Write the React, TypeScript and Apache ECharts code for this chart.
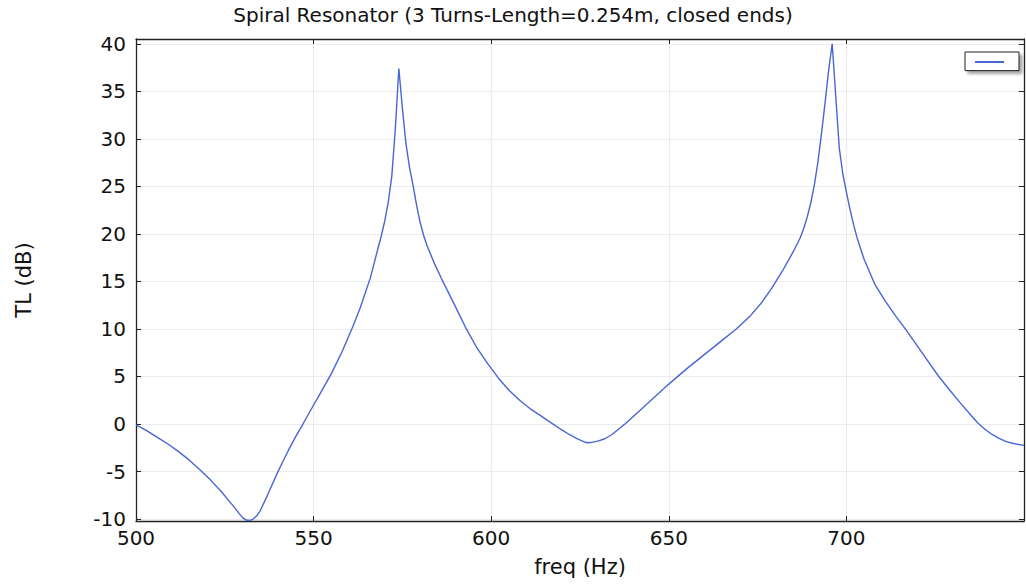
import React, { useEffect, useRef } from "react";
import * as echarts from "echarts";

const TITLE = "Spiral Resonator (3 Turns-Length=0.254m, closed ends)";
const X_NAME = "freq (Hz)";
const Y_NAME = "TL (dB)";
const SERIES_NAME = "TL";

const freq: number[] = [
  500, 503, 506, 509, 512, 515, 518, 521, 524, 526, 528, 529, 530, 531, 532, 533, 534, 535, 537, 539,
  541, 543, 545, 547, 550, 552, 555, 558, 561, 563, 566, 568, 569, 570, 571, 572, 573, 574, 575, 576,
  577, 578, 579, 580, 581, 582, 584, 586, 588, 590, 593, 596, 599, 602, 605, 608, 611, 614, 617, 620,
  622, 624, 626, 627, 628, 630, 632, 634, 636, 638, 640, 645, 650, 655, 660, 665, 669, 673, 676, 679,
  682, 685, 687, 688, 689, 690, 691, 692, 693, 694, 695, 696, 697, 698, 699, 700, 701, 702, 703, 705,
  708, 711, 714, 717, 720, 723, 726, 729, 732, 735, 737, 739, 741, 743, 745, 747, 750,
];
const tl: number[] = [
  -0.1, -0.7, -1.4, -2.1, -2.9, -3.8, -4.8, -5.9, -7.1, -8.0, -8.9, -9.4, -9.85, -10.1, -10.15, -10.0, -9.65, -9.1, -7.5, -5.8,
  -4.2, -2.7, -1.3, 0.0, 2.0, 3.3, 5.3, 7.6, 10.2, 12.1, 15.4, 18.3, 19.7, 21.3, 23.3, 26.0, 31.0, 37.4, 33.2, 29.5,
  27.0, 25.1, 23.0, 21.2, 19.8, 18.7, 16.9, 15.3, 13.8, 12.3, 10.0, 8.0, 6.35, 4.85, 3.55, 2.5, 1.6, 0.85, 0.1, -0.65,
  -1.1, -1.5, -1.85, -1.97, -1.95, -1.8, -1.55, -1.1, -0.5, 0.1, 0.8, 2.5, 4.2, 5.8, 7.3, 8.8, 10.0, 11.4, 12.7, 14.3,
  16.1, 18.1, 19.6, 20.6, 21.8, 23.3, 25.2, 27.6, 30.6, 33.8, 37.2, 40.0, 34.5, 29.0, 26.3, 24.4, 22.6, 21.0, 19.6, 17.3,
  14.7, 12.9, 11.3, 9.8, 8.2, 6.6, 5.0, 3.6, 2.25, 0.95, 0.1, -0.55, -1.1, -1.5, -1.85, -2.05, -2.25,
];

const X_MIN = 500;
const X_MAX = 750;
const X_STEP = 50;
const Y_MIN = -10.2;
const Y_MAX = 40.5;

export default function App() {
  const ref = useRef<HTMLDivElement>(null);
  useEffect(() => {
    if (!ref.current) return;
    const chart = echarts.init(ref.current, undefined, { renderer: "svg" });
    const font = "DejaVu Sans";
    const axisLine = { show: true, onZero: false, lineStyle: { color: "#222", width: 1.3 } };
    const splitLine = { show: true, lineStyle: { color: "#ebebeb", width: 1 } };
    const tick = { show: true, inside: true, length: 5, lineStyle: { color: "#222" } };
    const data = freq.map((f, i) => [f, tl[i]]);
    chart.setOption({
      animation: false,
      backgroundColor: "#ffffff",
      title: {
        text: TITLE,
        left: "center",
        top: 5,
        padding: 0,
        textStyle: { fontFamily: font, fontSize: 20, fontWeight: "normal", color: "#111" },
      },
      legend: {
        show: true,
        right: 7,
        top: 52,
        data: [{ name: SERIES_NAME }],
        formatter: () => "",
        itemWidth: 29,
        itemHeight: 14,
        itemGap: 0,
        itemStyle: { opacity: 0, borderWidth: 0 },
        padding: [3, 14, 3, 9],
        backgroundColor: "#ffffff",
        borderColor: "#222",
        borderWidth: 1,
        borderRadius: 0,
        shadowColor: "rgba(0,0,0,0.35)",
        shadowBlur: 3,
        shadowOffsetX: 3,
        shadowOffsetY: 3,
        textStyle: { fontSize: 12 },
      },
      grid: { left: 136, right: 2, top: 39, bottom: 63, containLabel: false },
      xAxis: [
        {
          type: "value",
          min: X_MIN,
          max: X_MAX,
          interval: X_STEP,
          name: X_NAME,
          nameLocation: "middle",
          nameGap: 35,
          nameTextStyle: { fontFamily: font, fontSize: 21, color: "#111" },
          axisLine,
          axisTick: tick,
          axisLabel: { fontFamily: font, fontSize: 20, color: "#111", margin: 7, showMaxLabel: false },
          splitLine,
        },
        {
          type: "value",
          position: "top",
          min: X_MIN,
          max: X_MAX,
          interval: X_STEP,
          axisLine,
          axisTick: tick,
          axisLabel: { show: false },
          splitLine: { show: false },
        },
      ],
      yAxis: [
        {
          type: "value",
          min: Y_MIN,
          max: Y_MAX,
          splitNumber: 10,
          name: Y_NAME,
          nameLocation: "middle",
          nameGap: 102,
          nameRotate: 90,
          nameTextStyle: { fontFamily: font, fontSize: 21, color: "#111" },
          axisLine,
          axisTick: tick,
          axisLabel: { fontFamily: font, fontSize: 20, color: "#111", margin: 10, showMinLabel: false, showMaxLabel: false },
          splitLine,
        },
        {
          type: "value",
          position: "right",
          min: Y_MIN,
          max: Y_MAX,
          splitNumber: 10,
          axisLine,
          axisTick: tick,
          axisLabel: { show: false },
          splitLine: { show: false },
        },
      ],
      series: [
        {
          name: SERIES_NAME,
          type: "line",
          data,
          symbol: "none",
          smooth: false,
          lineStyle: { color: "#4766d4", width: 1.4 },
          itemStyle: { color: "#4766d4" },
        },
      ],
    });
    return () => chart.dispose();
  }, []);
  return <div ref={ref} style={{ width: 1026, height: 584, position: "fixed", left: 0, top: 0, background: "#fff" }} />;
}
